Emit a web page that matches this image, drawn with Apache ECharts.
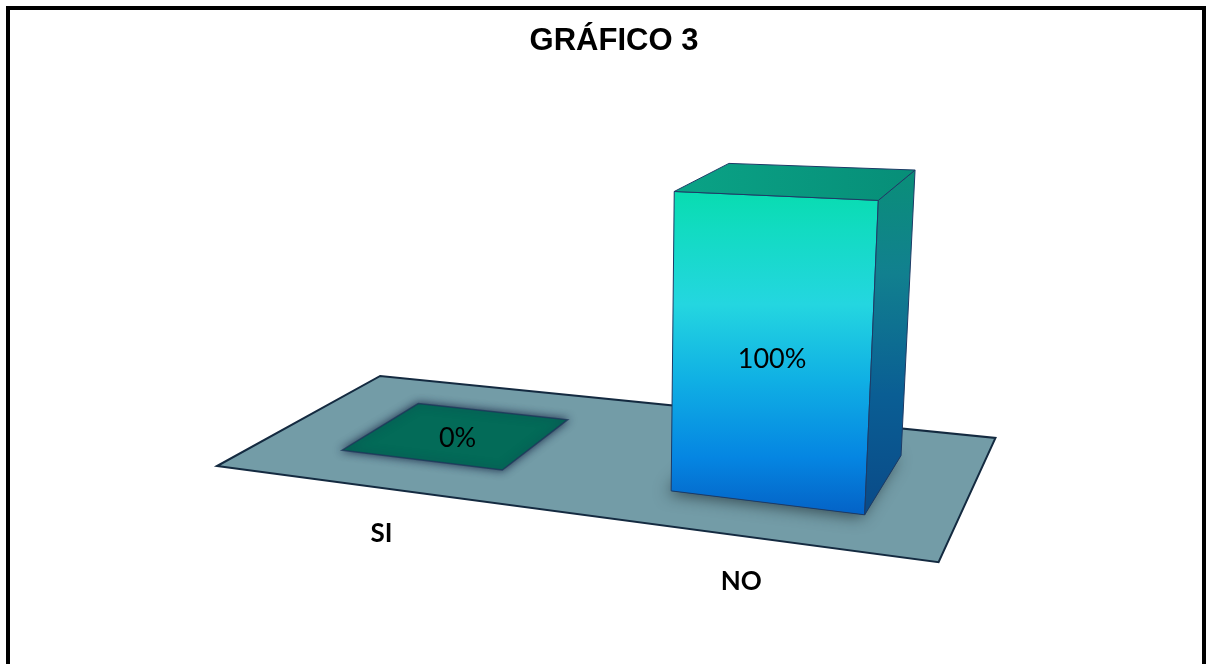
<!DOCTYPE html>
<html>
<head>
<meta charset="utf-8">
<script src="https://cdn.jsdelivr.net/npm/echarts@6/dist/echarts.min.js"></script>
<style>
  html, body { margin: 0; padding: 0; background: #ffffff; }
  #chart { width: 1207px; height: 664px; }
</style>
</head>
<body>
<div id="chart"></div>
<script>
// Chart data
const categories = ['SI', 'NO'];
const percentValues = [0, 100];
const valueAxisRange = [0, 100];

// Perspective camera: world X runs along the categories, Y points up,
// Z runs back across the floor. The hidden grid gives world units (1 unit = 1 grid px).
const CAMERA = {
  axisX: [0.9027, 0.0881, -0.4212],
  axisY: [-0.0286, -0.9643, -0.2631],
  axisZ: [0.4294, -0.2495, 0.8684],
  offset: [-132, 58.7, 1000],
  focal: 1636,
  center: [433, 370]
};
const FLOOR_DEPTH = 218;
const FLOOR_SHIFT = 5;         // category bands sit slightly right of the floor's left edge
const BAR_DEPTH_RATIO = 0.5;
const BAR_WIDTH_RATIO = 0.51;

function dot(a, b) { return a[0] * b[0] + a[1] * b[1] + a[2] * b[2]; }

function project(p) {
  const c = CAMERA;
  const x = p[0] + FLOOR_SHIFT;
  const v = [0, 1, 2].map(k => c.axisX[k] * x + c.axisY[k] * p[1] + c.axisZ[k] * p[2] + c.offset[k]);
  return [c.center[0] + c.focal * v[0] / v[2], c.center[1] + c.focal * v[1] / v[2]];
}

// camera position in grid-world units
const cameraPos = [
  -dot(CAMERA.axisX, CAMERA.offset) - FLOOR_SHIFT,
  -dot(CAMERA.axisY, CAMERA.offset),
  -dot(CAMERA.axisZ, CAMERA.offset)
];

function faceVisible(point, normal) {
  return dot([cameraPos[0] - point[0], cameraPos[1] - point[1], cameraPos[2] - point[2]], normal) > 0;
}

function centroid(pts) {
  let x = 0, y = 0;
  pts.forEach(p => { x += p[0]; y += p[1]; });
  return [x / pts.length, y / pts.length];
}

const EDGE = '#1d3b66';

function renderFloor(params, api) {
  const cs = params.coordSys;
  const W = cs.width;
  const pts = [[0, 0, 0], [W, 0, 0], [W, 0, FLOOR_DEPTH], [0, 0, FLOOR_DEPTH]]
    .map(p => project([p[0] - FLOOR_SHIFT, p[1], p[2]]));
  return {
    type: 'polygon',
    shape: { points: pts },
    style: { fill: '#739ca7', stroke: '#142a40', lineWidth: 2, lineJoin: 'miter' }
  };
}

function renderBar(params, api) {
  const cs = params.coordSys;
  const idx = api.value(0);
  const val = api.value(1);
  const top = api.coord([idx, val]);
  const base = api.coord([idx, 0]);
  const band = api.size([1, 0])[0];
  const cx = top[0] - cs.x;
  const hw = band * BAR_WIDTH_RATIO / 2;
  const X0 = cx - hw, X1 = cx + hw;
  const Z0 = FLOOR_DEPTH * (1 - BAR_DEPTH_RATIO) / 2, Z1 = Z0 + FLOOR_DEPTH * BAR_DEPTH_RATIO;
  const H = base[1] - top[1];
  const children = [];
  const flat = H < 0.5;

  const foot = [[X0, 0, Z0], [X1, 0, Z0], [X1, 0, Z1], [X0, 0, Z1]].map(project);
  const topPts = [[X0, H, Z0], [X1, H, Z0], [X1, H, Z1], [X0, H, Z1]].map(project);

  if (!flat) {
    // soft shadow around the base
    children.push({
      type: 'polygon',
      shape: { points: foot },
      style: { fill: 'rgba(40,55,60,0.9)', shadowBlur: 16, shadowColor: 'rgba(20,30,35,0.75)', shadowOffsetX: -4, shadowOffsetY: 2 }
    });
    const faces = [
      { pts: [[X0, 0, Z0], [X1, 0, Z0], [X1, H, Z0], [X0, H, Z0]], n: [0, 0, -1], kind: 'front' },
      { pts: [[X1, 0, Z0], [X1, 0, Z1], [X1, H, Z1], [X1, H, Z0]], n: [1, 0, 0], kind: 'right' },
      { pts: [[X0, 0, Z1], [X0, 0, Z0], [X0, H, Z0], [X0, H, Z1]], n: [-1, 0, 0], kind: 'right' },
      { pts: [[X0, 0, Z1], [X1, 0, Z1], [X1, H, Z1], [X0, H, Z1]], n: [0, 0, 1], kind: 'right' },
      { pts: [[X0, H, Z0], [X1, H, Z0], [X1, H, Z1], [X0, H, Z1]], n: [0, 1, 0], kind: 'top' }
    ];
    const fills = {
      front: new echarts.graphic.LinearGradient(0, 0, 0, 1, [
        { offset: 0, color: '#08dcb0' },
        { offset: 0.12, color: '#12dbc2' },
        { offset: 0.35, color: '#24d6e0' },
        { offset: 0.58, color: '#10b0e4' },
        { offset: 0.82, color: '#0586e2' },
        { offset: 1, color: '#0462c6' }
      ]),
      right: new echarts.graphic.LinearGradient(0, 0, 0, 1, [
        { offset: 0, color: '#0a8f78' },
        { offset: 0.3, color: '#11808f' },
        { offset: 0.65, color: '#0a5e94' },
        { offset: 1, color: '#0a4a88' }
      ]),
      top: new echarts.graphic.LinearGradient(0, 0, 1, 0, [
        { offset: 0, color: '#0aa386' },
        { offset: 1, color: '#078e78' }
      ])
    };
    faces.forEach(f => {
      if (!faceVisible(f.pts[0], f.n)) return;
      children.push({
        type: 'polygon',
        shape: { points: f.pts.map(project) },
        style: { fill: fills[f.kind], stroke: EDGE, lineWidth: 1 }
      });
    });
    const frontCenter = centroid([[X0, 0, Z0], [X1, 0, Z0], [X1, H, Z0], [X0, H, Z0]].map(project));
    children.push({
      type: 'text', x: frontCenter[0], y: frontCenter[1] + 10,
      style: { text: val + '%', fill: '#000', font: '27px Lato', align: 'center', verticalAlign: 'middle' }
    });
  } else {
    children.push({
      type: 'polygon',
      shape: { points: topPts },
      style: { fill: '#036b58', stroke: 'rgba(30,50,90,0.7)', lineWidth: 1.5, shadowBlur: 8, shadowColor: 'rgba(25,40,70,0.95)' }
    });
    const c = centroid(topPts);
    children.push({
      type: 'text', x: c[0], y: c[1] + 2,
      style: { text: val + '%', fill: '#000', font: '27px Lato', align: 'center', verticalAlign: 'middle' }
    });
  }

  // category label in front of the floor
  const lab = project([cx, 0, 0]);
  children.push({
    type: 'text', x: lab[0] + 2, y: lab[1] + 46,
    style: { text: categories[idx], fill: '#000', font: 'bold 26px Lato', align: 'center', verticalAlign: 'middle' }
  });

  return { type: 'group', children: children };
}

const chart = echarts.init(document.getElementById('chart'), null, { renderer: 'canvas' });
chart.setOption({
  animation: false,
  backgroundColor: '#ffffff',
  title: {
    text: 'GRÁFICO 3',
    left: 609,
    top: 21,
    textAlign: 'center',
    textStyle: { fontFamily: 'Liberation Sans', fontWeight: 'bold', fontSize: 31, color: '#000000' }
  },
  graphic: [{
    type: 'rect',
    shape: { x: 8, y: 8, width: 1196, height: 720 },
    style: { fill: 'none', stroke: '#000000', lineWidth: 4 },
    silent: true
  }],
  grid: { left: 100, top: 100, width: 427, height: 172 },
  xAxis: { type: 'category', data: categories, show: false, boundaryGap: true },
  yAxis: { type: 'value', min: valueAxisRange[0], max: valueAxisRange[1], show: false },
  series: [
    { type: 'custom', name: 'floor', data: [[0, 0]], renderItem: renderFloor, z: 1, silent: true },
    {
      type: 'custom', name: 'bars', z: 2,
      data: percentValues.map((v, i) => [i, v]),
      encode: { x: 0, y: 1 },
      renderItem: renderBar
    }
  ]
});
</script>
</body>
</html>
